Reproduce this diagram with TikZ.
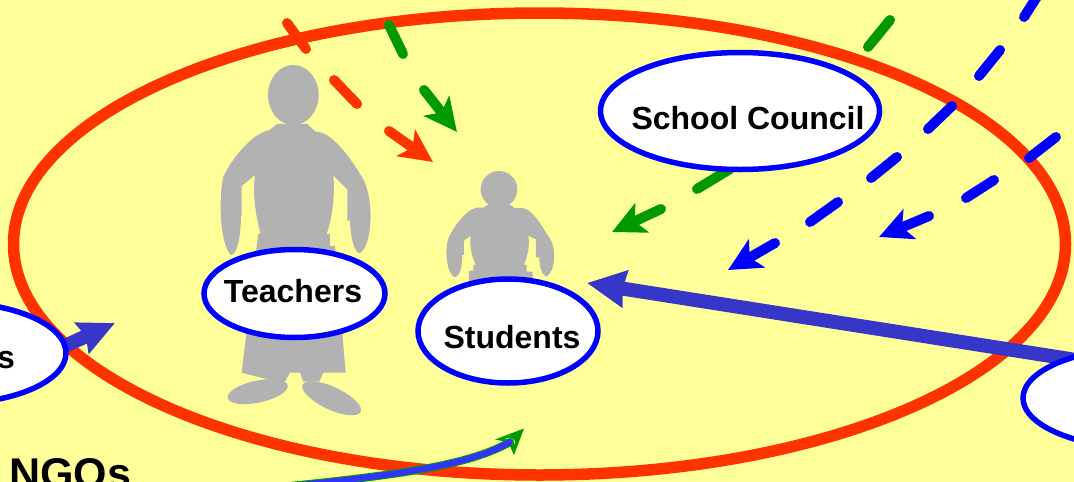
\documentclass[tikz,border=0pt]{standalone}
\usepackage{fontspec}
\setmainfont{Liberation Sans}
\usetikzlibrary{arrows.meta,shapes.geometric}
\definecolor{bgy}{HTML}{FFFF99}
\definecolor{redo}{HTML}{FF3300}
\definecolor{gre}{HTML}{009900}
\definecolor{blu}{HTML}{0000FF}
\definecolor{ind}{HTML}{3636C8}
\definecolor{gry}{HTML}{B2B2B2}
\tikzset{
  actor/.style={ellipse,draw=blu,fill=white,line width=5.5pt,inner sep=0pt},
  lab/.style={font=\bfseries\fontsize{32}{33}\selectfont,text=black},
  dashr/.style={line width=10pt,line cap=round,draw=redo},
  dashg/.style={line width=10pt,line cap=round,draw=gre},
  dashb/.style={line width=10pt,line cap=round,draw=blu},
  headed/.style={-{Stealth[length=33pt,width=32pt,inset=8pt]}},
  solidarrow/.style={line width=14pt,draw=ind},
  fig/.style={fill=gry},
}
\begin{document}
\begin{tikzpicture}[x=1pt,y=-1pt]
\clip (0,0) rectangle (1074,482);
\fill[bgy] (0,0) rectangle (1074,482);
% outer ring
\draw[redo,line width=11.5pt] (539.5,244) ellipse [x radius=526,y radius=231];
% teacher figure
\begin{scope}[shift={(190,50)},x=0.3333pt,y=-0.3333pt]
  \fill[fig] (310,135) ellipse [x radius=76,y radius=90];
  \fill[fig] (262,222) -- (352,222) -- (382,250) -- (430,375) .. controls (436,440) and (425,510) .. (410,552) -- (420,552) -- (420,588) -- (435,588) -- (467,968) -- (400,968) -- (388,995) -- (340,995) -- (330,968) -- (300,968) -- (285,995) -- (240,990) -- (155,968) -- (200,590) -- (205,552) -- (212,552) .. controls (195,490) and (188,430) .. (195,375) -- (232,245) -- cycle;
  \fill[fig] (245,240) .. controls (195,240) and (125,325) .. (100,380) .. controls (85,450) and (90,580) .. (122,615) .. controls (145,615) and (152,550) .. (153,497) -- (155,497) -- (155,408) -- (195,375) -- (260,375) -- (270,240) -- cycle;
  \fill[fig] (385,246) .. controls (430,250) and (490,335) .. (522,392) .. controls (550,450) and (550,580) .. (510,610) .. controls (490,605) and (482,560) .. (480,512) -- (472,512) -- (472,418) -- (428,375) -- (360,375) -- (350,246) -- cycle;
  \fill[fig] (203,1025) ellipse [x radius=92,y radius=33,rotate=12];
  \fill[fig] (425,1045) ellipse [x radius=96,y radius=34,rotate=-25];
\end{scope}
% student figure
\begin{scope}[shift={(400,150)},x=0.3333pt,y=-0.3333pt]
  \fill[fig] (297,118) circle [radius=55];
  \fill[fig] (262,165) -- (332,165) -- (358,185) -- (385,258) .. controls (390,290) and (382,320) .. (372,345) -- (380,345) -- (380,365) -- (398,365) -- (398,400) -- (207,400) -- (207,362) -- (220,362) -- (220,345) -- (228,345) .. controls (215,320) and (208,290) .. (212,258) -- (240,180) -- cycle;
  \fill[fig] (240,172) .. controls (205,170) and (165,225) .. (150,255) .. controls (130,290) and (140,375) .. (165,382) .. controls (182,375) and (187,345) .. (187,315) -- (192,315) -- (192,272) -- (213,257) -- (260,257) -- (262,175) -- cycle;
  \fill[fig] (365,174) .. controls (395,175) and (425,225) .. (442,255) .. controls (475,290) and (465,370) .. (438,380) .. controls (422,370) and (418,345) .. (418,322) -- (408,322) -- (408,268) -- (384,257) -- (340,257) -- (335,175) -- cycle;
\end{scope}
% named end points
\coordinate (ra1) at (287,23);\coordinate (ra2) at (306,49);
\coordinate (rb1) at (334,80);\coordinate (rb2) at (357,104);
\coordinate (rc1) at (389,131);\coordinate (rtip) at (433,162);
\coordinate (ga1) at (389,25);\coordinate (ga2) at (403,54);
\coordinate (gb1) at (424,90);\coordinate (gtip) at (457,132);
\coordinate (ha1) at (890,20);\coordinate (ha2) at (868,47);
\coordinate (hb1) at (730,169);\coordinate (hb2) at (697,189);
\coordinate (hc1) at (661,209);\coordinate (htip) at (612,232);
\coordinate (ba1) at (1040,-8);\coordinate (ba2) at (1024,17);
\coordinate (bb1) at (1000,50);\coordinate (bb2) at (979,76);
\coordinate (bc1) at (952,106);\coordinate (bc2) at (928,129);
\coordinate (bd1) at (897,157);\coordinate (bd2) at (871,178);
\coordinate (be1) at (838,202);\coordinate (be2) at (810,222);
\coordinate (bf1) at (775,243);\coordinate (btip) at (728,270);
\coordinate (ca1) at (1056,137);\coordinate (ca2) at (1029,158);
\coordinate (cb1) at (994,180);\coordinate (cb2) at (966,198);
\coordinate (cc1) at (929,216);\coordinate (ctip) at (879,237);
\coordinate (ltip) at (115,323);
\coordinate (ptip) at (587,283);
\coordinate (ngostart) at (280,487);
\coordinate (ngoend) at (510,442);
% dashed connectors
\draw[dashr] (ra1)--(ra2);
\draw[dashr] (rb1)--(rb2);
\draw[dashr,headed] (rc1)--(rtip);
\draw[dashg] (ga1)--(ga2);
\draw[dashg,headed] (gb1)--(gtip);
\draw[dashg] (ha1)--(ha2);
\draw[dashg] (hb1)--(hb2);
\draw[dashg,headed] (hc1)--(htip);
\draw[dashb] (ba1)--(ba2);
\draw[dashb] (bb1)--(bb2);
\draw[dashb] (bc1)--(bc2);
\draw[dashb] (bd1)--(bd2);
\draw[dashb] (be1)--(be2);
\draw[dashb,headed] (bf1)--(btip);
\draw[dashb] (ca1)--(ca2);
\draw[dashb] (cb1)--(cb2);
\draw[dashb,headed] (cc1)--(ctip);
% curved bottom arrow
\fill[gre] (524,428.5) -- (495,439.5) -- (508,442) -- (514,455) -- cycle;
\fill[bgy] (505,438.5) .. controls (511,437) and (516,439) .. (515,444) .. controls (513,441) and (510,439.5) .. (505,438.5) -- cycle;
\draw[gre,line width=8pt,line cap=round] (ngostart) .. controls (400,475) and (470,465) .. (ngoend);
\draw[blu!80!white,line width=6pt,line cap=round] (ngostart) .. controls (400,475) and (470,465) .. (ngoend);
% actor ovals and solid connectors
\node[actor,minimum width=181pt,minimum height=88pt] (teachers) at (294.5,293.5) {};
\node[lab,anchor=base] at (293,302) {Teachers};
\node[actor,minimum width=180pt,minimum height=104pt] (students) at (508,331) {};
\node[lab,anchor=base] at (512,348) {Students};
\node[actor,minimum width=279pt,minimum height=117pt] (council) at (740,111) {};
\node[lab,anchor=base] at (748,129) {School Council};
\coordinate (rstart) at (1146,371);
\draw[solidarrow,-{Stealth[length=38pt,width=36pt,inset=2pt]}] (rstart) -- (ptip);
\coordinate (lstart) at (45,355);
\draw[solidarrow,-{Stealth[length=36pt,width=33pt,inset=4pt]}] (lstart) -- (ltip);
\node[actor,minimum width=228pt,minimum height=101pt] (left) at (-48,353) {};
\node[actor,minimum width=246pt,minimum height=101pt] (right) at (1146,398) {};
\node[lab,anchor=base east,inner sep=0pt] at (15,368) {s};
\node[font=\bfseries\fontsize{43}{44}\selectfont,anchor=base west,inner sep=0pt] (ngos) at (9,488) {NGOs};
\end{tikzpicture}
\end{document}
